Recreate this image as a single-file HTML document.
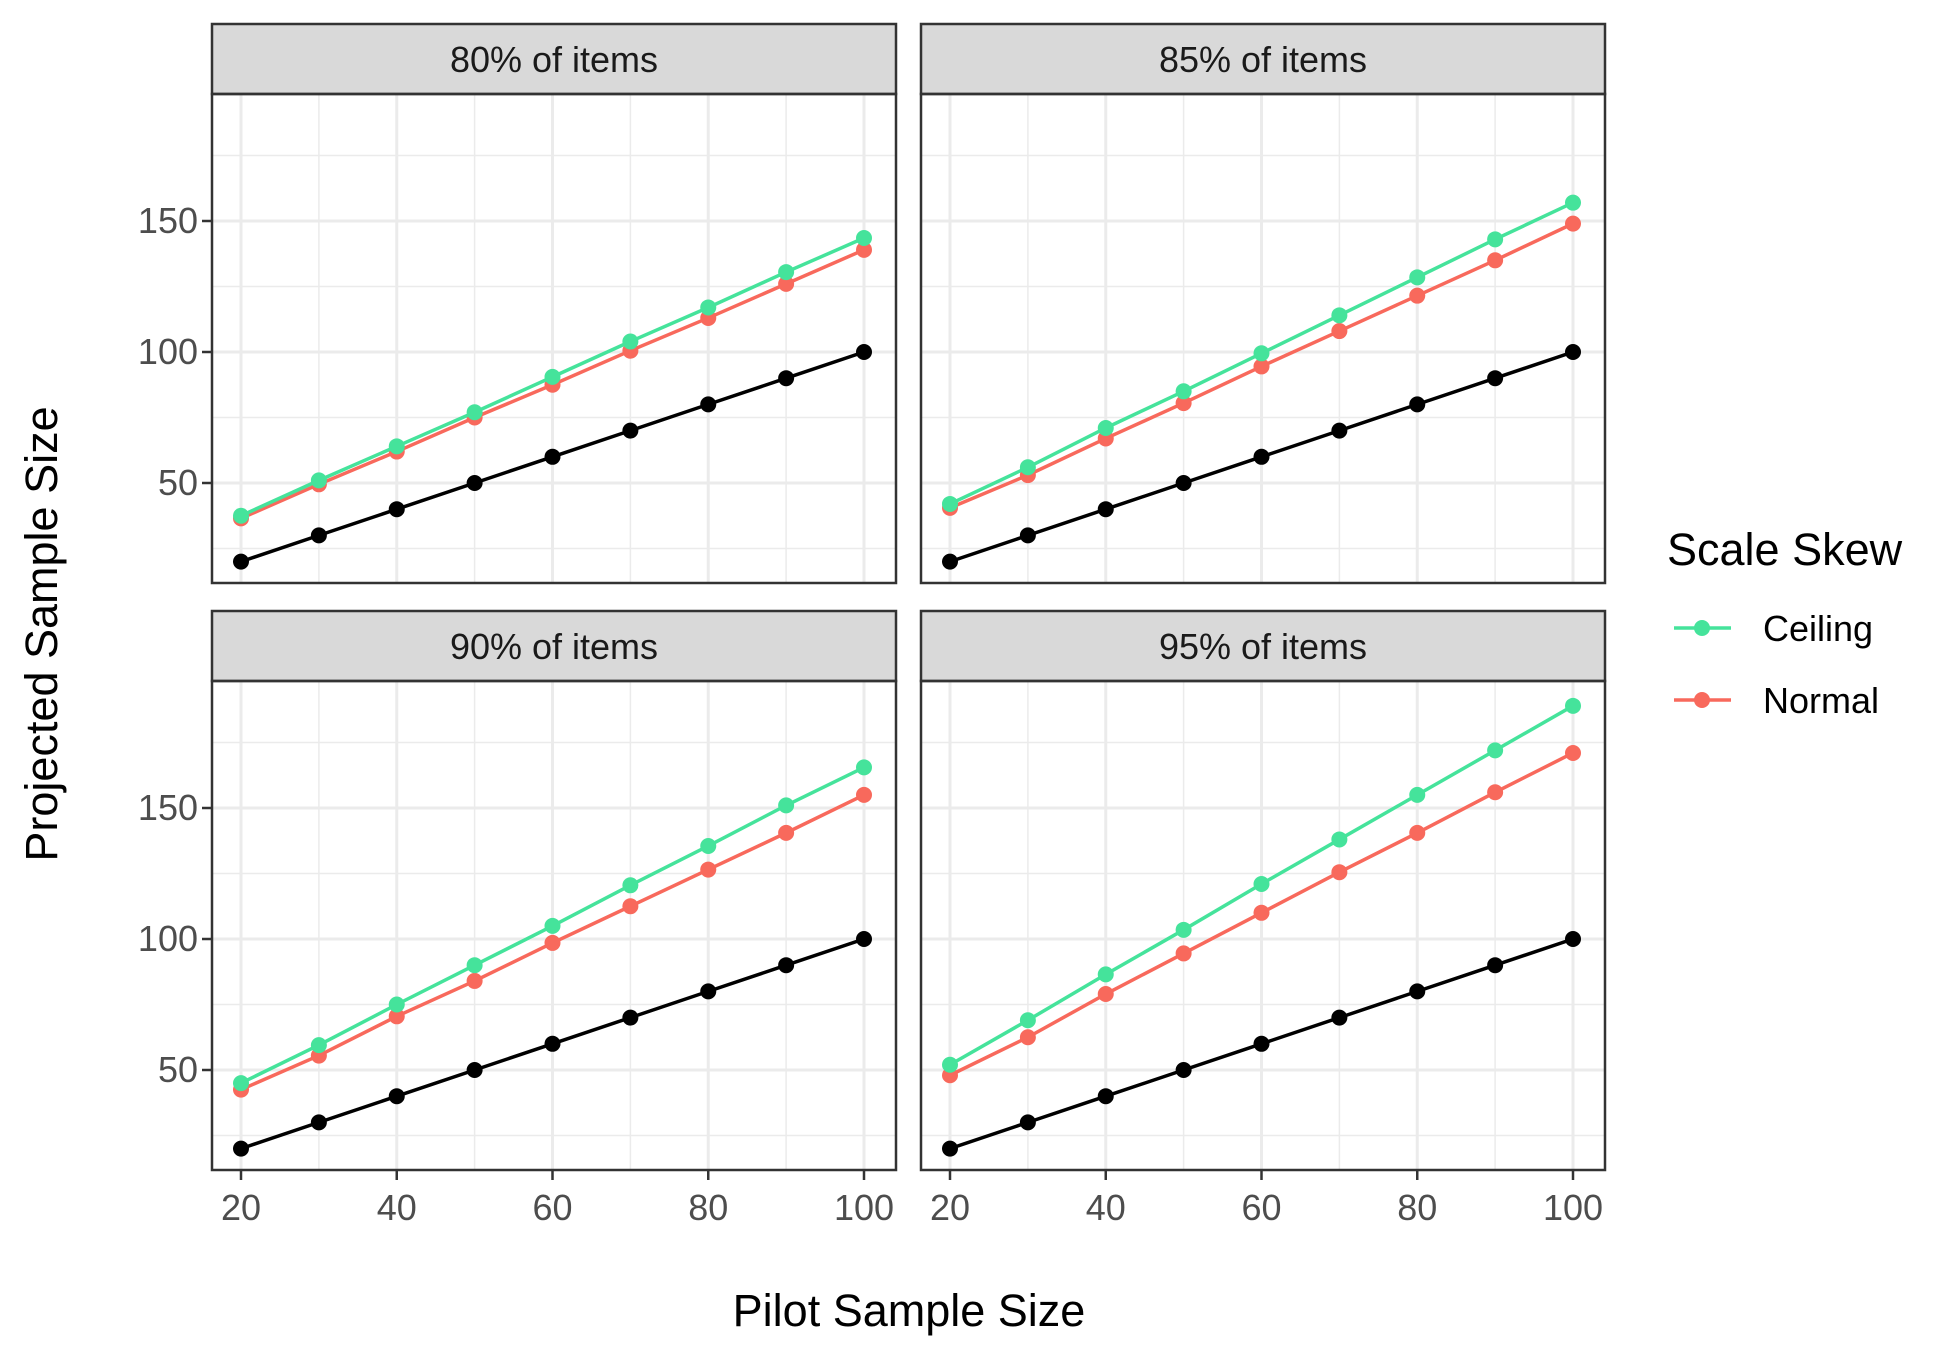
<!DOCTYPE html>
<html><head><meta charset="utf-8"><style>
html,body{margin:0;padding:0;background:#fff;}
svg{display:block;font-family:"Liberation Sans",Arial,sans-serif;}
</style></head><body>
<svg id="chart" width="1950" height="1350" viewBox="0 0 1950 1350"></svg>
<script>
const panels = ["80% of items","85% of items","90% of items","95% of items"];
const pilotSizes = [20,30,40,50,60,70,80,90,100];
const ceilingValues = [
  [37.5,51,64,77,90.5,104,117,130.5,143.5],
  [42,56,71,85,99.5,114,128.5,143,157],
  [45,59.5,75,90,105,120.5,135.5,151,165.5],
  [52,69,86.5,103.5,121,138,155,172,189]
];
const normalValues = [
  [36.5,49.5,62,75,87.5,100.5,113,126,139],
  [40.5,53,67,80.5,94.5,108,121.5,135,149],
  [42.5,55.5,70.5,84,98.5,112.5,126.5,140.5,155],
  [48,62.5,79,94.5,110,125.5,140.5,156,171]
];
const baselineValues = [20,30,40,50,60,70,80,90,100];
const xTicks = [20,40,60,80,100];
const xMinor = [30,50,70,90];
const yTicks = [50,100,150];
const yMinor = [25,75,125,175];

const NS="http://www.w3.org/2000/svg";
const svg=document.getElementById('chart');
function mk(tag,attrs,parent){const e=document.createElementNS(NS,tag);for(const k in attrs)e.setAttribute(k,attrs[k]);(parent||svg).appendChild(e);return e;}

const colL=[212,921], colW=684;
const stripTop=[24,611], plotTop=[94,681], plotBot=[583,1170];
function xs(col,v){return colL[col]+29+(v-20)*(623/80);}
function ys(row,v){return plotTop[row]+127+(150-v)*(262/100);}

panels.forEach((title,i)=>{
  const row=Math.floor(i/2), col=i%2;
  const g=mk('g',{});
  
  
  const L=colL[col], R=L+colW;
  mk('rect',{x:L,y:plotTop[row],width:colW,height:plotBot[row]-plotTop[row],fill:'#fff'},g);
  yMinor.forEach(v=>{const y=ys(row,v);if(y>plotTop[row]&&y<plotBot[row])mk('line',{x1:L,x2:R,y1:y,y2:y,stroke:'#ebebeb','stroke-width':1.5},g);});
  xMinor.forEach(v=>{const x=xs(col,v);mk('line',{x1:x,x2:x,y1:plotTop[row],y2:plotBot[row],stroke:'#ebebeb','stroke-width':1.5},g);});
  yTicks.forEach(v=>{const y=ys(row,v);mk('line',{x1:L,x2:R,y1:y,y2:y,stroke:'#ebebeb','stroke-width':3},g);});
  xTicks.forEach(v=>{const x=xs(col,v);mk('line',{x1:x,x2:x,y1:plotTop[row],y2:plotBot[row],stroke:'#ebebeb','stroke-width':3},g);});
  // strip
  const s=mk('rect',{x:L,y:stripTop[row],width:colW,height:plotTop[row]-stripTop[row],fill:'#d9d9d9',stroke:'#333','stroke-width':2.5},g);
  
  
  const st=mk('text',{x:L+colW/2,y:stripTop[row]+48,'text-anchor':'middle','font-size':36,fill:'#1a1a1a'},g);
  st.textContent=title;
  
  
  // series
  const series=[[baselineValues,'#000000','baseline'],[ceilingValues[i],'#45e39b','ceiling'],[normalValues[i],'#f8695c','normal']];
  series.slice().reverse().forEach(([vals,c,name])=>{
    const sg=mk('g',{},g);
    
    
    const pts=vals.map((v,k)=>xs(col,pilotSizes[k])+','+ys(row,v)).join(' ');
    mk('polyline',{points:pts,fill:'none',stroke:c,'stroke-width':3.5},sg);
    vals.forEach((v,k)=>{const p=mk('circle',{cx:xs(col,pilotSizes[k]),cy:ys(row,v),r:8,fill:c},sg);
      
      });
  });
  mk('rect',{x:L,y:plotTop[row],width:colW,height:plotBot[row]-plotTop[row],fill:'none',stroke:'#333','stroke-width':2.5},g);
  if(col===0){
    yTicks.forEach(v=>{const y=ys(row,v);
      mk('line',{x1:L-10,x2:L,y1:y,y2:y,stroke:'#333','stroke-width':2.5},g);
      const t=mk('text',{x:L-14,y:y+12,'text-anchor':'end','font-size':36,fill:'#4d4d4d'},g);
      t.textContent=v;
      
      });
  }
  if(row===1){
    xTicks.forEach(v=>{const x=xs(col,v);
      mk('line',{x1:x,x2:x,y1:plotBot[row],y2:plotBot[row]+10,stroke:'#333','stroke-width':2.5},g);
      const t=mk('text',{x:x,y:plotBot[row]+50,'text-anchor':'middle','font-size':36,fill:'#4d4d4d'},g);
      t.textContent=v;
      
      });
  }
});
</script>
<svg style="position:absolute;left:0;top:0" width="1950" height="1350">
  <text x="909" y="1326" text-anchor="middle" font-size="45" fill="#000" font-family="Liberation Sans, sans-serif">Pilot Sample Size</text>
  <text transform="translate(57,634) rotate(-90)" text-anchor="middle" font-size="45" fill="#000" font-family="Liberation Sans, sans-serif">Projected Sample Size</text>
  <g font-family="Liberation Sans, sans-serif">
    <text x="1667" y="565" font-size="45" fill="#000">Scale Skew</text>
    <g>
      <line x1="1674" x2="1731" y1="628" y2="628" stroke="#45e39b" stroke-width="3.5"/>
      <circle cx="1702" cy="628" r="8" fill="#45e39b"/>
      <text x="1763" y="641" font-size="36" fill="#000">Ceiling</text>
    </g>
    <g>
      <line x1="1674" x2="1731" y1="700" y2="700" stroke="#f8695c" stroke-width="3.5"/>
      <circle cx="1702" cy="700" r="8" fill="#f8695c"/>
      <text x="1763" y="713" font-size="36" fill="#000">Normal</text>
    </g>
  </g>
</svg>
</body></html>
